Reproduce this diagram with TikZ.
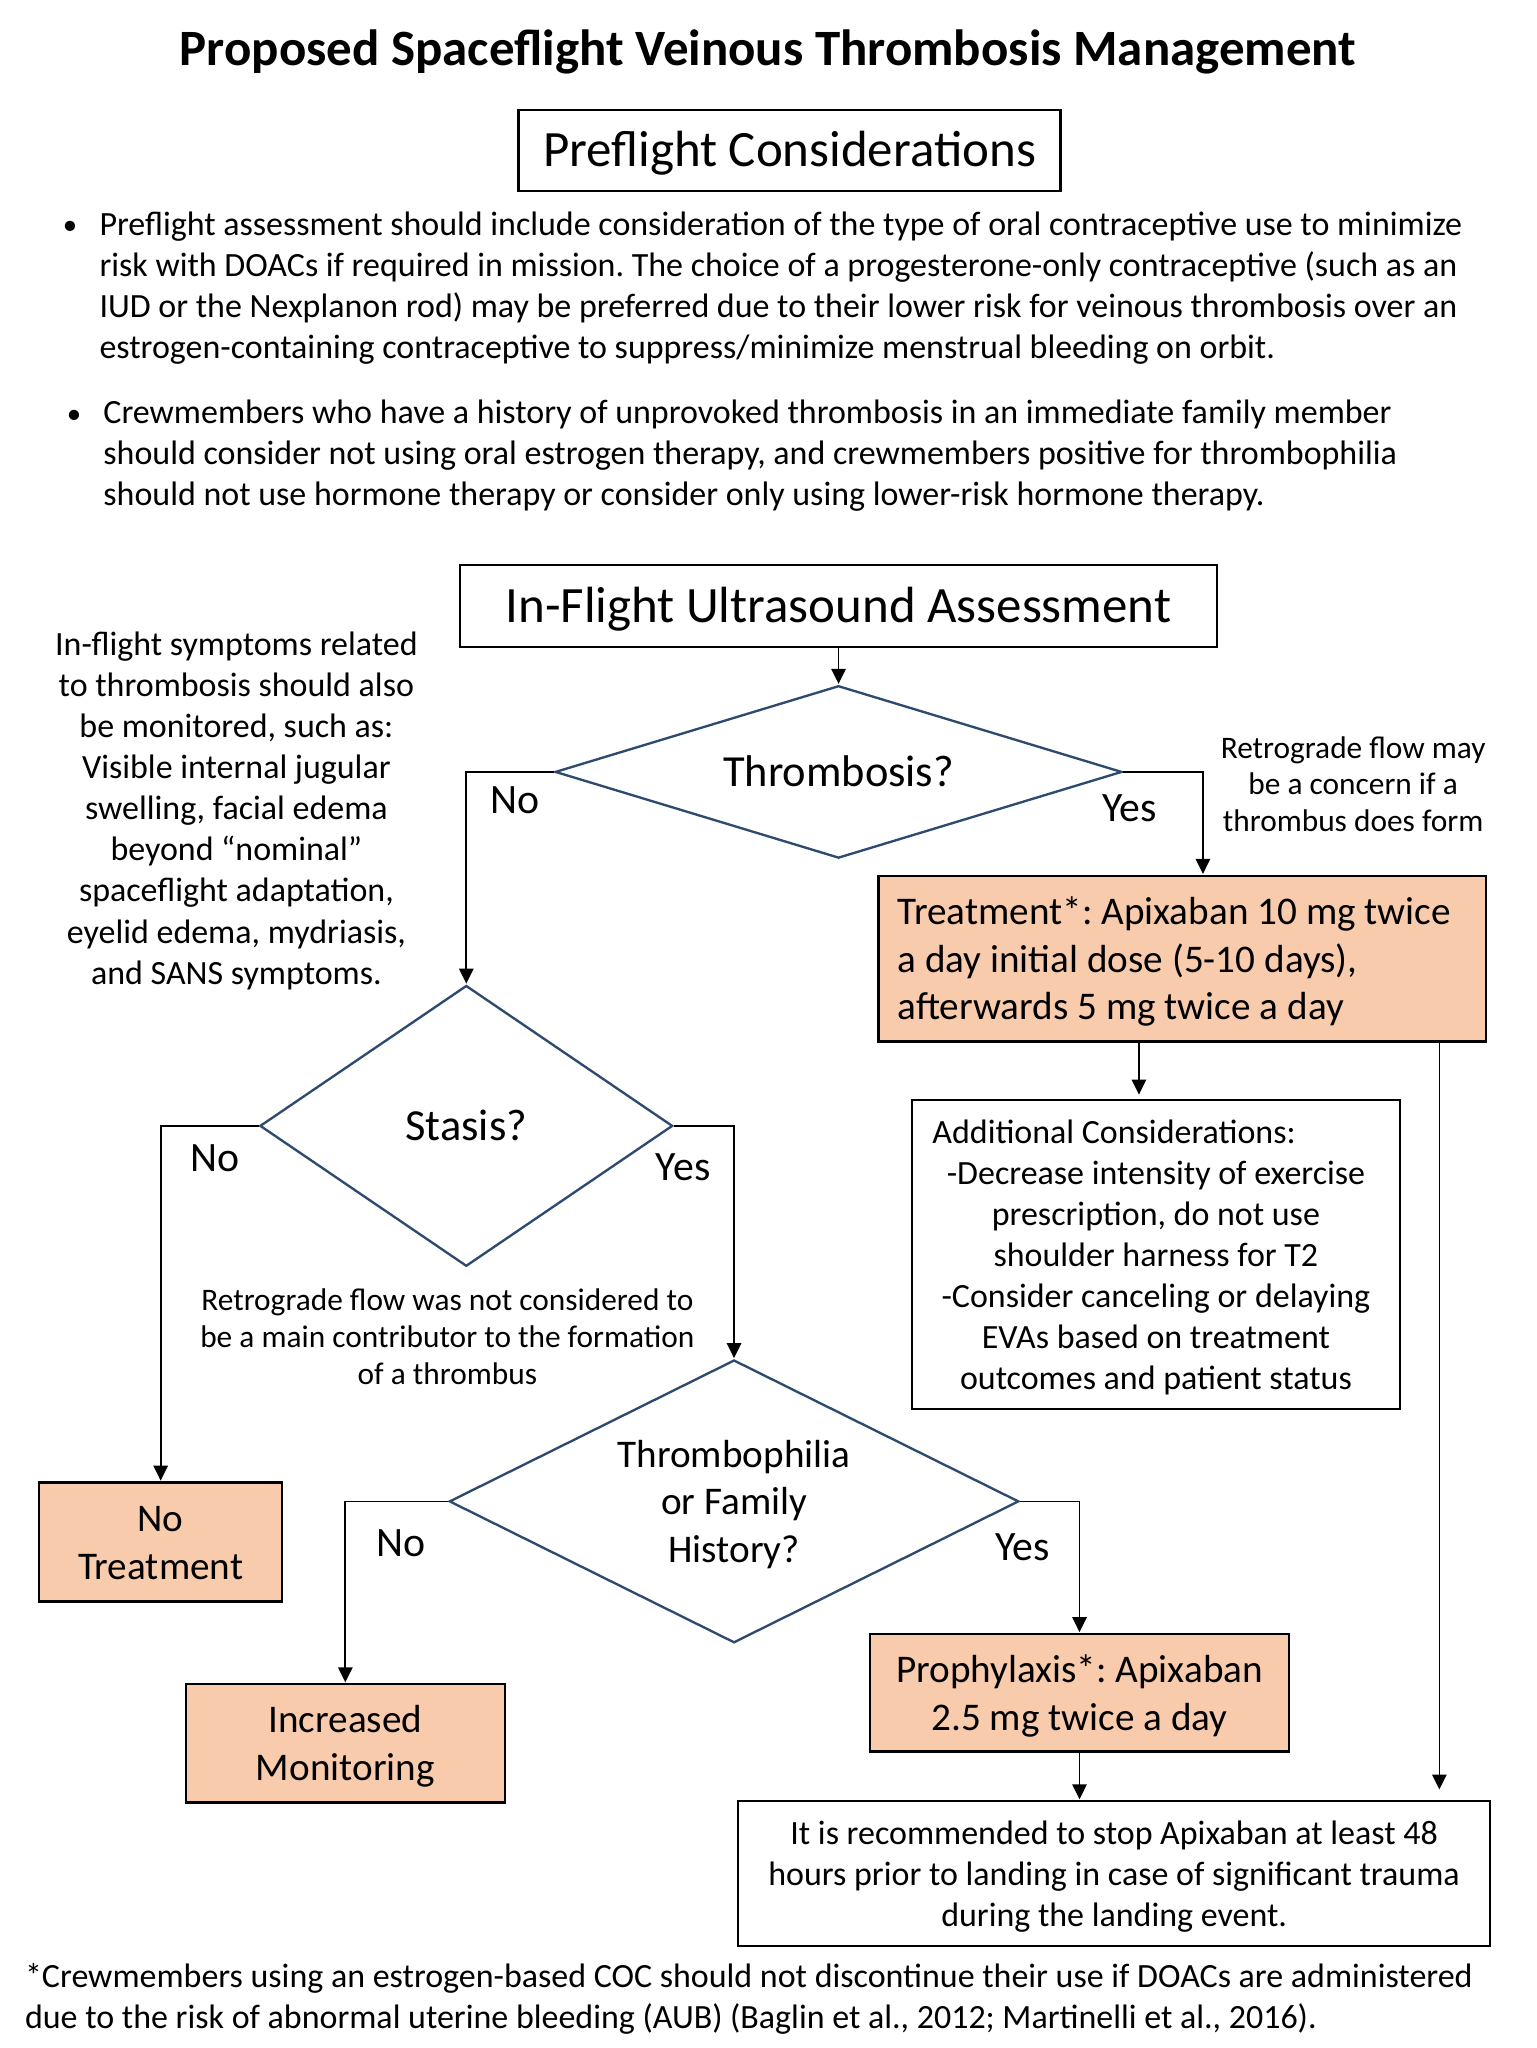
\documentclass[tikz,border=0pt]{standalone}
\usepackage{fontspec}
\setmainfont{Carlito}
\usetikzlibrary{shapes.geometric,arrows.meta,calc}
\definecolor{peach}{HTML}{F8CBAD}
\definecolor{navy}{HTML}{2F4A6F}
\frenchspacing
\newcommand\fTitle{\fontsize{39}{47}\selectfont\bfseries}
\newcommand\fHead{\fontsize{39}{47}\selectfont}
\newcommand\fDec{\fontsize{34}{41}\selectfont}
\newcommand\fBox{\fontsize{30}{36.5}\selectfont}
\newcommand\fLbl{\fontsize{32}{38}\selectfont}
\newcommand\fBody{\fontsize{26}{31.4}\selectfont}
\newcommand\fNote{\fontsize{24}{28.2}\selectfont}
\newcommand\mylines[2][c]{\raisebox{-3pt}[\height][\depth]{\begin{tabular}{@{}#1@{}}#2\end{tabular}}}
\newcommand\mybullet{\hspace*{1pt}\raisebox{0.5pt}{\scalebox{0.85}{•}}}
\tikzset{
  plainbox/.style={draw=black, line width=1.8pt, inner sep=0pt, align=center},
  peachbox/.style={plainbox, fill=peach},
  decision/.style={diamond, draw=navy, line width=1.8pt, inner sep=0pt, fill=white},
  conn/.style={line width=1.3pt, -{Triangle[length=11.5pt,width=11pt]}, shorten >=0.5pt},
  lbl/.style={font=\fLbl, inner sep=0pt},
  txt/.style={inner sep=0pt},
}
\begin{document}
\begin{tikzpicture}[x=1pt,y=-1pt]
\fill[white] (0,0) rectangle (1176,1568);
\useasboundingbox (0,0) rectangle (1176,1568);

\node[txt, font=\fTitle] (title) at (588,38) {\mylines{Proposed Spaceflight Veinous Thrombosis Management}};
\node[plainbox, font=\fHead, minimum width=415pt, minimum height=62pt] (pre) at (604.5,115) {\mylines{Preflight Considerations}};

\node[txt, font=\fBody, anchor=west] (b1) at (47,221) {\begin{tabular}{@{}p{29pt}@{}l@{}}
\mybullet & Preflight assessment should include consideration of the type of oral contraceptive use to minimize\\
 & risk with DOACs if required in mission. The choice of a progesterone-only contraceptive (such as an\\
 & IUD or the Nexplanon rod) may be preferred due to their lower risk for veinous thrombosis over an\\
 & estrogen-containing contraceptive to suppress/minimize menstrual bleeding on orbit.
\end{tabular}};
\node[txt, font=\fBody, anchor=west] (b2) at (50,349.7) {\begin{tabular}{@{}p{29pt}@{}l@{}}
\mybullet & Crewmembers who have a history of unprovoked thrombosis in an immediate family member\\
 & should consider not using oral estrogen therapy, and crewmembers positive for thrombophilia\\
 & should not use hormone therapy or consider only using lower-risk hormone therapy.
\end{tabular}};

\node[plainbox, font=\fHead, minimum width=580pt, minimum height=63pt] (inf) at (642,464) {\mylines{In-Flight Ultrasound Assessment}};

\node[txt, font=\fBody] (symp) at (181,618.5) {\mylines{In-flight symptoms related\\to thrombosis should also\\be monitored, such as:\\Visible internal jugular\\swelling, facial edema\\beyond “nominal”\\spaceflight adaptation,\\eyelid edema, mydriasis,\\and SANS symptoms.}};

\node[decision, font=\fDec, minimum width=434pt, minimum height=132pt, aspect=3.29] (thr) at (642,591) {\mylines{Thrombosis?}};
\node[txt, font=\fNote] (retro1) at (1036,600) {\mylines{Retrograde flow may\\be a concern if a\\thrombus does form}};

\node[peachbox, font=\fBox, minimum width=465pt, minimum height=127pt] (treat) at (905,734) {\mylines[l]{Treatment*: Apixaban 10 mg twice\\a day initial dose (5-10 days),\\afterwards 5 mg twice a day}\hspace*{12pt}};

\node[plainbox, font=\fBody, minimum width=374pt, minimum height=237pt] (add) at (885,960.5) {\mylines{\multicolumn{1}{@{}l@{}}{\hspace*{-7pt}Additional Considerations:}\\
-Decrease intensity of exercise\\
prescription, do not use\\
shoulder harness for T2\\
-Consider canceling or delaying\\
EVAs based on treatment\\
outcomes and patient status}};

\node[decision, font=\fDec, minimum width=316pt, minimum height=215pt, aspect=1.47] (sta) at (357,862) {\mylines{Stasis?}};
\node[txt, font=\fNote] (retro2) at (342.5,1023) {\mylines{Retrograde flow was not considered to\\be a main contributor to the formation\\of a thrombus}};

\node[peachbox, font=\fBox, minimum width=186pt, minimum height=91pt] (notr) at (123,1180.5) {\mylines{No\\Treatment}};

\node[decision, font=\fBox, minimum width=436pt, minimum height=216.5pt, aspect=2.01] (tph) at (562,1149.5) {\mylines{Thrombophilia\\or Family\\History?}};

\node[peachbox, font=\fBox, minimum width=244pt, minimum height=90.5pt] (incm) at (264.4,1334.7) {\mylines{Increased\\Monitoring}};
\node[peachbox, font=\fBox, minimum width=321pt, minimum height=90pt] (pro) at (826.5,1296) {\mylines{Prophylaxis*: Apixaban\\2.5 mg twice a day}};

\node[plainbox, font=\fBody, minimum width=576pt, minimum height=111pt] (fin) at (853,1434.5) {\mylines{It is recommended to stop Apixaban at least 48\\hours prior to landing in case of significant trauma\\during the landing event.}};

\node[txt, font=\fBody, anchor=west] (foot) at (19,1528) {\mylines[l]{*Crewmembers using an estrogen-based COC should not discontinue their use if DOACs are administered\\due to the risk of abnormal uterine bleeding (AUB) (Baglin et al., 2012; Martinelli et al., 2016).}};

% labels
\node[lbl] (thrNo) at (394,612) {\mylines{No}};
\node[lbl] (thrYes) at (865,618) {\mylines{Yes}};
\node[lbl] (staNo) at (164.5,886) {\mylines{No}};
\node[lbl] (staYes) at (523,893) {\mylines{Yes}};
\node[lbl] (tphNo) at (307,1181) {\mylines{No}};
\node[lbl] (tphYes) at (783,1184) {\mylines{Yes}};

% connectors
\draw[conn] (inf.south) -- (thr.north);
\draw[conn] (thr.west) -| (sta.north);
\draw[conn] (thr.east) -| ([xshift=16pt]treat.north);
\draw[conn, shorten >=3pt] ([xshift=-33pt]treat.south) -- ([xshift=-33pt]treat.south |- add.north);
\draw[conn, shorten >=8pt] ([xshift=197pt]treat.south) -- ([xshift=197pt]treat.south |- fin.north);
\draw[conn] (sta.west) -| (notr.north);
\draw[conn] (sta.east) -| (tph.north);
\draw[conn] (tph.west) -| (incm.north);
\draw[conn] (tph.east) -| (pro.north);
\draw[conn] (pro.south) -- (pro.south |- fin.north);
\end{tikzpicture}
\end{document}
